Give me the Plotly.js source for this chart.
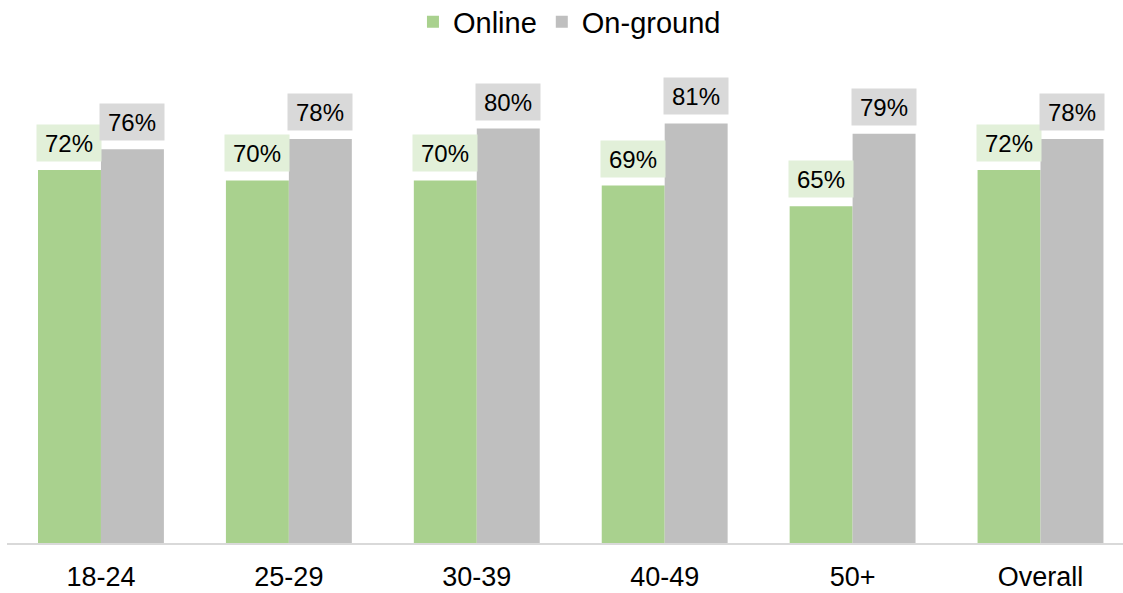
<!DOCTYPE html>
<html>
<head>
<meta charset="utf-8">
<script src="https://cdn.plot.ly/plotly-3.0.1.min.js"></script>
<style>html,body{margin:0;padding:0;background:#fff;}#chart{width:1123px;height:593px;}</style>
</head>
<body>
<div id="chart"></div>
<script>
const categories = ["18-24", "25-29", "30-39", "40-49", "50+", "Overall"];
const onlineValues = [72, 70, 70, 69, 65, 72];
const onGroundValues = [76, 78, 80, 81, 79, 78];
const seriesNames = ["Online", "On-ground"];

const FONT = "Arial, 'Liberation Sans', sans-serif";
const GREEN = "#A9D18E", GRAY = "#BFBFBF";
const GREEN_BG = "#E2F0D9", GRAY_BG = "#D9D9D9";

const traces = [
  {type: "bar", name: seriesNames[0], x: categories, y: onlineValues,
   marker: {color: GREEN}, hoverinfo: "none"},
  {type: "bar", name: seriesNames[1], x: categories, y: onGroundValues,
   marker: {color: GRAY}, hoverinfo: "none"}
];

const annotations = [];
categories.forEach((c, i) => {
  annotations.push({x: c, y: onlineValues[i], xref: "x", yref: "y",
    text: onlineValues[i] + "%", showarrow: false, xanchor: "center", yanchor: "bottom",
    xshift: -31.5, yshift: 8, bgcolor: GREEN_BG, width: 60, height: 32, borderpad: 2,
    font: {family: FONT, size: 24, color: "#000"}});
  annotations.push({x: c, y: onGroundValues[i], xref: "x", yref: "y",
    text: onGroundValues[i] + "%", showarrow: false, xanchor: "center", yanchor: "bottom",
    xshift: 31.5, yshift: 8, bgcolor: GRAY_BG, width: 60, height: 32, borderpad: 2,
    font: {family: FONT, size: 24, color: "#000"}});
});

const layout = {
  width: 1123, height: 593,
  margin: {l: 7, r: 0, t: 25, b: 50, autoexpand: false},
  paper_bgcolor: "#fff", plot_bgcolor: "#fff",
  barmode: "group", bargap: 0.33, bargroupgap: 0,
  font: {family: FONT, color: "#000"},
  showlegend: true,
  legend: {orientation: "h", x: 0.504, xanchor: "center", y: 1.006, yanchor: "middle",
    font: {family: FONT, size: 29, color: "#000"}, bgcolor: "rgba(0,0,0,0)"},
  xaxis: {type: "category", range: [-0.5, 5.439], showline: true, linecolor: "#D9D9D9", linewidth: 2,
    ticks: "", ticklabelstandoff: 9, showgrid: false, zeroline: false, fixedrange: true,
    tickfont: {family: FONT, size: 27, color: "#000"}},
  yaxis: {range: [0, 100], visible: false, showgrid: false, zeroline: false, fixedrange: true},
  annotations: annotations
};

Plotly.newPlot("chart", traces, layout, {displayModeBar: false, staticPlot: true});
</script>
</body>
</html>
